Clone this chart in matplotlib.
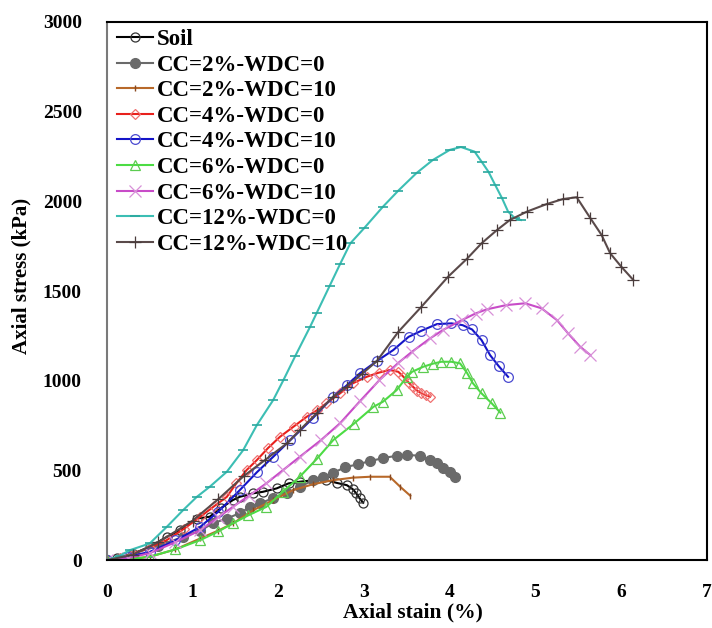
import matplotlib
matplotlib.use("Agg")
import matplotlib.pyplot as plt

plt.rcParams['font.family'] = ['Liberation Serif', 'DejaVu Serif']
plt.rcParams['font.weight'] = 'bold'

# Soil
soil_x = [0, 0.12, 0.31, 0.5, 0.7, 0.85, 1.05, 1.2, 1.33, 1.47, 1.55, 1.71, 1.82, 1.98, 2.12, 2.25, 2.41, 2.56, 2.68, 2.80, 2.87, 2.91, 2.95, 2.99]
soil_y = [0, 10, 37, 74, 130, 167, 232, 242, 290, 335, 353, 373, 381, 400, 428, 437, 446, 446, 431, 418, 395, 372, 344, 320]

# CC=2%-WDC=0
cc2_0_x = [0, 0.31, 0.6, 0.89, 1.09, 1.24, 1.40, 1.55, 1.67, 1.79, 1.94, 2.10, 2.25, 2.41, 2.52, 2.64, 2.78, 2.93, 3.07, 3.22, 3.38, 3.50, 3.65, 3.77, 3.85, 3.92, 4.00, 4.06]
cc2_0_y = [0, 37, 80, 130, 165, 206, 232, 262, 297, 317, 346, 372, 409, 446, 465, 487, 518, 535, 552, 569, 582, 587, 582, 558, 539, 515, 490, 465]

# CC=2%-WDC=10
cc2_10_x = [0, 0.3, 0.5, 0.8, 1.09, 1.3, 1.47, 1.71, 1.94, 2.17, 2.41, 2.64, 2.87, 3.07, 3.30, 3.42, 3.54]
cc2_10_y = [0, 8, 19, 60, 121, 165, 205, 279, 335, 390, 424, 446, 460, 465, 465, 410, 359]

# CC=4%-WDC=0
cc4_0_x = [0, 0.15, 0.31, 0.5, 0.7, 0.9, 1.09, 1.25, 1.40, 1.51, 1.63, 1.75, 1.88, 2.02, 2.18, 2.33, 2.45, 2.56, 2.72, 2.87, 3.03, 3.17, 3.30, 3.40, 3.46, 3.52, 3.57, 3.62, 3.67, 3.72, 3.77]
cc4_0_y = [0, 12, 37, 70, 112, 175, 242, 300, 353, 428, 502, 558, 625, 688, 745, 799, 835, 874, 930, 986, 1022, 1045, 1060, 1050, 1022, 990, 967, 945, 930, 920, 911]

# CC=4%-WDC=10
cc4_10_x = [0, 0.25, 0.5, 0.8, 1.09, 1.3, 1.55, 1.75, 1.94, 2.14, 2.40, 2.64, 2.80, 2.95, 3.15, 3.34, 3.52, 3.67, 3.85, 4.02, 4.15, 4.26, 4.37, 4.47, 4.57, 4.68]
cc4_10_y = [0, 20, 46, 110, 186, 270, 390, 490, 576, 669, 790, 911, 975, 1041, 1110, 1171, 1245, 1279, 1316, 1320, 1310, 1286, 1227, 1143, 1082, 1022]

# CC=6%-WDC=0
cc6_0_x = [0, 0.25, 0.5, 0.8, 1.09, 1.3, 1.47, 1.65, 1.86, 2.05, 2.25, 2.45, 2.64, 2.88, 3.11, 3.22, 3.38, 3.50, 3.56, 3.69, 3.80, 3.90, 4.02, 4.12, 4.20, 4.27, 4.37, 4.49, 4.59]
cc6_0_y = [0, 5, 19, 60, 112, 160, 205, 250, 297, 380, 465, 565, 669, 760, 855, 883, 948, 1022, 1050, 1078, 1095, 1106, 1106, 1097, 1045, 986, 930, 874, 822]

# CC=6%-WDC=10
cc6_10_x = [0, 0.25, 0.5, 0.8, 1.09, 1.3, 1.47, 1.66, 1.86, 2.05, 2.25, 2.50, 2.72, 2.95, 3.18, 3.40, 3.56, 3.77, 3.92, 4.14, 4.30, 4.43, 4.66, 4.88, 5.07, 5.25, 5.38, 5.52, 5.64]
cc6_10_y = [0, 12, 39, 100, 167, 240, 297, 360, 428, 500, 576, 670, 763, 885, 1004, 1100, 1162, 1236, 1283, 1338, 1375, 1398, 1422, 1432, 1404, 1338, 1264, 1190, 1143]

# CC=12%-WDC=0
cc12_0_x = [0, 0.15, 0.27, 0.5, 0.7, 0.89, 1.05, 1.2, 1.4, 1.59, 1.75, 1.94, 2.06, 2.2, 2.37, 2.45, 2.6, 2.72, 2.84, 3.0, 3.22, 3.40, 3.61, 3.80, 4.0, 4.13, 4.29, 4.37, 4.45, 4.53, 4.61, 4.68, 4.76, 4.83]
cc12_0_y = [0, 25, 56, 93, 186, 279, 353, 409, 493, 613, 753, 892, 1004, 1140, 1300, 1380, 1530, 1650, 1766, 1850, 1970, 2060, 2157, 2230, 2287, 2303, 2277, 2222, 2166, 2091, 2017, 1943, 1906, 1896]

# CC=12%-WDC=10
cc12_10_x = [0, 0.3, 0.6, 1.0, 1.3, 1.6, 1.85, 2.10, 2.25, 2.45, 2.64, 2.80, 2.98, 3.15, 3.40, 3.67, 3.98, 4.2, 4.37, 4.55, 4.70, 4.90, 5.13, 5.32, 5.48, 5.64, 5.77, 5.87, 6.0, 6.14]
cc12_10_y = [0, 30, 100, 220, 340, 470, 560, 651, 725, 820, 911, 967, 1040, 1110, 1273, 1413, 1580, 1680, 1766, 1840, 1896, 1943, 1985, 2013, 2023, 1906, 1813, 1711, 1636, 1562]

fig = plt.figure(figsize=(7.12, 6.28), dpi=100)
ax = fig.add_axes([0.150, 0.108, 0.843, 0.857])

lw = 1.5
ax.plot(soil_x, soil_y, color="black", lw=lw, marker="o", ms=6.5, mfc="none", mec="#333333", mew=0.9, label="Soil")
ax.plot(cc2_0_x, cc2_0_y, color="#6a6a6a", lw=lw, marker="o", ms=7, mfc="#6a6a6a", mec="#6a6a6a", label="CC=2%-WDC=0")
ax.plot(cc2_10_x, cc2_10_y, color="#b8692a", lw=lw, marker="|", ms=4, mec="#8a4a20", label="CC=2%-WDC=10")
ax.plot(cc4_0_x, cc4_0_y, color="#e8201c", lw=lw, marker="D", ms=5, mfc="none", mec="#f07070", mew=0.9, label="CC=4%-WDC=0")
ax.plot(cc4_10_x, cc4_10_y, color="#1414c8", lw=lw, marker="o", ms=7, mfc="none", mec="#4a4ad0", mew=0.9, label="CC=4%-WDC=10")
ax.plot(cc6_0_x, cc6_0_y, color="#4cdc44", lw=lw, marker="^", ms=7, mfc="none", mec="#5ccc50", mew=0.9, label="CC=6%-WDC=0")
ax.plot(cc6_10_x, cc6_10_y, color="#c84cc8", lw=lw, marker="x", ms=8, mec="#d890d8", mew=0.9, label="CC=6%-WDC=10")
ax.plot(cc12_0_x, cc12_0_y, color="#3cbeb4", lw=lw, marker="_", ms=7, mec="#2aa89e", mew=1.2, label="CC=12%-WDC=0")
ax.plot(cc12_10_x, cc12_10_y, color="#5a4a4a", lw=lw, marker="+", ms=9, mec="#4a3c3c", mew=0.9, label="CC=12%-WDC=10")

ax.set_xlim(0, 7)
ax.set_ylim(0, 3000)
ax.set_xticks(range(0, 8))
ax.set_yticks(range(0, 3001, 500))
ax.tick_params(axis="both", length=0, labelsize=14)
ax.tick_params(axis="y", pad=18)
ax.tick_params(axis="x", pad=17)
for lab in ax.get_xticklabels() + ax.get_yticklabels():
    lab.set_fontweight("bold")

for side in ["top", "right", "bottom"]:
    ax.spines[side].set_color("black")
    ax.spines[side].set_linewidth(1.5)
ax.spines["left"].set_color("#7a7a7a")
ax.spines["left"].set_linewidth(1.5)

ax.set_xlabel("Axial stain (%)", fontsize=15.5, fontweight="bold")
ax.set_ylabel("Axial stress (kPa)", fontsize=15, fontweight="bold")
ax.xaxis.set_label_coords(0.51, -0.078)
ax.yaxis.set_label_coords(-0.125, 0.528)

leg = ax.legend(loc="upper left", bbox_to_anchor=(0.005, 1), frameon=False,
                prop={"size": 16.5, "weight": "bold"}, borderaxespad=0.1,
                borderpad=0.2, labelspacing=0.2, handlelength=1.6,
                handletextpad=0.15)

fig.savefig("out.png", dpi=100, facecolor="white")
